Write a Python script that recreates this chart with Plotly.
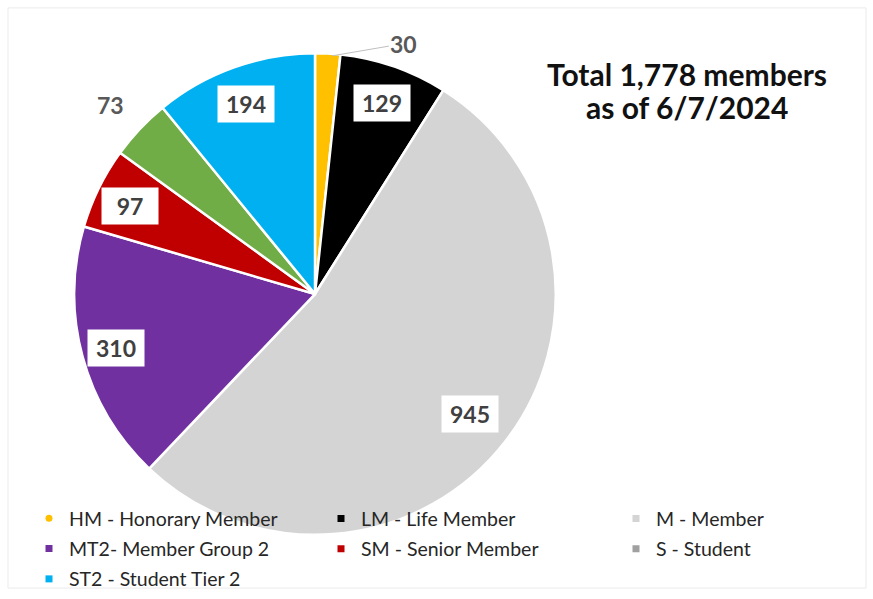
import math
import plotly.graph_objects as go

W, H = 873, 599

categories = ["HM - Honorary Member", "LM - Life Member", "M - Member",
              "MT2- Member Group 2", "SM - Senior Member", "S - Student",
              "ST2 - Student Tier 2"]
values = [30, 129, 945, 310, 97, 73, 194]
slice_colors = ["#FFC000", "#000000", "#D4D4D4", "#7030A0", "#C00000", "#70AD47", "#00B0F0"]
legend_colors = ["#FFC000", "#000000", "#D4D4D4", "#7030A0", "#C00000", "#A0A0A0", "#00B0F0"]
legend_symbols = ["circle", "square", "square", "square", "square", "square", "square"]
title_lines = ["Total 1,778 members", "as of 6/7/2024"]

# legend column for each category (entries laid out row by row in 3 columns)
legend_ids = ["legend", "legend2", "legend3"]

# pie geometry (pixels)
CX, CY, R = 315, 299, 242
R_DOM = 244
PIE_CY = 298
dom_x = [(CX - R_DOM) / W, (CX + R_DOM) / W]
dom_y = [1 - (PIE_CY + R_DOM) / H, 1 - (PIE_CY - R_DOM) / H]

fig = go.Figure()
fig.add_trace(go.Pie(
    labels=categories, values=values, sort=False, direction="clockwise",
    rotation=0, marker=dict(colors=slice_colors, line=dict(color="white", width=2.5)),
    textinfo="none", hoverinfo="label+value", showlegend=False,
    domain=dict(x=dom_x, y=dom_y),
))

for i, (cat, col, sym) in enumerate(zip(categories, legend_colors, legend_symbols)):
    fig.add_trace(go.Scatter(
        x=[None], y=[None], mode="markers", name=cat,
        legend=legend_ids[i % 3], legendgroup=cat,
        marker=dict(color=col, symbol=sym, size=7, line=dict(width=0)),
    ))

total = sum(values)
cum = 0
annotations = []
outside_offsets = {0: (76, -13), 5: (-28, -27)}
for i, v in enumerate(values):
    mid = (cum + v / 2) / total * 2 * math.pi
    cum += v
    if i in outside_offsets:
        ax, ay = outside_offsets[i]
        px = CX + R * math.sin(mid)
        py = CY - R * math.cos(mid)
        if i == 0:
            annotations.append(dict(
                x=px / W, y=1 - py / H, xref="paper", yref="paper",
                xanchor="center", yanchor="middle",
                text=f"<b>{v}</b>", showarrow=True, arrowhead=0, arrowwidth=1,
                arrowcolor="#BFBFBF", ax=ax, ay=ay, standoff=4,
                font=dict(size=23, color="#595959", family="Lato"),
            ))
        else:
            annotations.append(dict(
                x=(px + ax) / W, y=1 - (py + ay) / H, xref="paper", yref="paper",
                xanchor="center", yanchor="middle",
                text=f"<b>{v}</b>", showarrow=False,
                font=dict(size=23, color="#595959", family="Lato"),
            ))
    else:
        f = 0.81 if v / total > 0.4 else 0.85
        px = CX + f * R * math.sin(mid)
        py = CY - f * R * math.cos(mid)
        annotations.append(dict(
            x=px / W, y=1 - py / H, xref="paper", yref="paper",
            xanchor="center", yanchor="middle",
            text=f"<b>{v}</b>", showarrow=False, bgcolor="white",
            width=48, height=28, borderpad=4,
            font=dict(size=23, color="#404040", family="Lato"),
        ))

for line, ty in zip(title_lines, [75, 108]):
    annotations.append(dict(
        x=687 / W, y=1 - ty / H, xref="paper", yref="paper",
        xanchor="center", yanchor="middle",
        text=f"<b>{line}</b>", showarrow=False,
        font=dict(size=30, color="#111111", family="Lato"),
    ))

legend_style = dict(orientation="v", xanchor="left", yanchor="top",
                    tracegroupgap=2, itemwidth=30, bgcolor="rgba(0,0,0,0)",
                    borderwidth=0,
                    font=dict(size=19.5, color="#262626", family="Lato"))

fig.update_layout(
    width=W, height=H, margin=dict(l=0, r=0, t=0, b=0),
    paper_bgcolor="white", plot_bgcolor="white",
    xaxis=dict(visible=False), yaxis=dict(visible=False),
    annotations=annotations,
    legend=dict(x=29 / W, y=1 - 506 / H, **legend_style),
    legend2=dict(x=321 / W, y=1 - 506 / H, **legend_style),
    legend3=dict(x=616 / W, y=1 - 506 / H, **legend_style),
    shapes=[dict(type="rect", xref="paper", yref="paper",
                 x0=8 / W, x1=866 / W, y0=1 - 596 / H, y1=1 - 8 / H,
                 line=dict(color="#EBEBEB", width=1))],
)

fig.write_html("out.html", config={"displayModeBar": False},
               post_script="document.body.style.margin='0';document.body.style.overflow='hidden';")
